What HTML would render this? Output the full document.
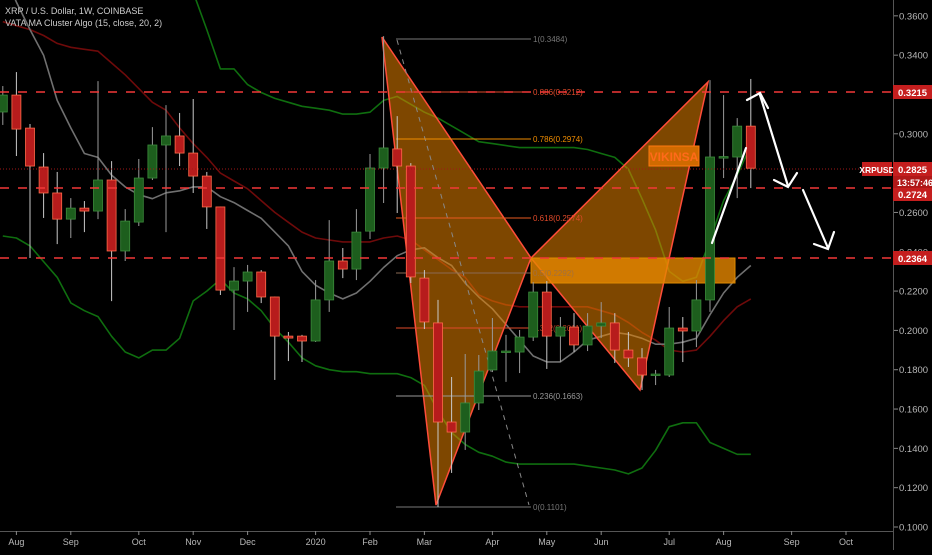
<!DOCTYPE html>
<html><head><meta charset="utf-8"><title>XRP / U.S. Dollar weekly chart</title>
<style>
html,body{margin:0;padding:0;background:#000;}
body{width:932px;height:550px;overflow:hidden;font-family:"Liberation Sans",sans-serif;}
svg text{font-family:"Liberation Sans",sans-serif;}
</style></head>
<body>
<svg id="chart" width="932" height="550" viewBox="0 0 932 550" xmlns="http://www.w3.org/2000/svg">
<rect x="0" y="0" width="932" height="550" fill="#000"/>
<defs><clipPath id="plot"><rect x="0" y="0" width="893" height="531"/></clipPath></defs>
<g id="under" clip-path="url(#plot)"></g>
<g id="lines" clip-path="url(#plot)"></g>
<g id="pattern" clip-path="url(#plot)">
  <polygon points="382,37 436,505 531,258" fill="rgba(230,130,0,0.55)" stroke="#ff4d3a" stroke-width="1.5"/>
  <polygon points="531,258 640,390 708,82" fill="rgba(230,130,0,0.55)" stroke="#ff4d3a" stroke-width="1.5"/>
  <line x1="397" y1="40" x2="529" y2="505" stroke="#888" stroke-width="1" stroke-dasharray="5,5"/>
  <rect x="531" y="258" width="204" height="25" fill="rgba(230,135,0,0.8)" stroke="#e08a00"/>
</g>
<g id="fib">
  <line x1="396" y1="39" x2="531" y2="39" stroke="#777"/>
  <text x="533" y="42" font-size="8" fill="#777">1(0.3484)</text>
  <line x1="396" y1="92" x2="531" y2="92" stroke="#e04a2a"/>
  <text x="533" y="95" font-size="8" fill="#e04a2a">0.886(0.3212)</text>
  <line x1="396" y1="139" x2="531" y2="139" stroke="#f08c00"/>
  <text x="533" y="142" font-size="8" fill="#f08c00">0.786(0.2974)</text>
  <line x1="396" y1="218" x2="531" y2="218" stroke="#e85a20"/>
  <text x="533" y="221" font-size="8" fill="#e04a2a">0.618(0.2574)</text>
  <line x1="396" y1="273" x2="531" y2="273" stroke="#8a6a55"/>
  <text x="533" y="276" font-size="8" fill="#a07040">0.5(0.2292)</text>
  <line x1="396" y1="328" x2="531" y2="328" stroke="#e04a2a"/>
  <text x="533" y="331" font-size="8" fill="#b03a20">0.382(0.2011)</text>
  <line x1="396" y1="396" x2="531" y2="396" stroke="#999"/>
  <text x="533" y="399" font-size="8" fill="#999">0.236(0.1663)</text>
  <line x1="396" y1="507" x2="531" y2="507" stroke="#777"/>
  <text x="533" y="510" font-size="8" fill="#777">0(0.1101)</text>
</g>
<g id="candles" clip-path="url(#plot)"></g>
<g id="levels">
  <line x1="0" y1="92" x2="893" y2="92" stroke="#f23838" stroke-width="1.5" stroke-dasharray="9,9"/>
  <line x1="0" y1="188" x2="893" y2="188" stroke="#f23838" stroke-width="1.5" stroke-dasharray="9,9"/>
  <line x1="0" y1="258" x2="893" y2="258" stroke="#f23838" stroke-width="1.5" stroke-dasharray="9,9"/>
  <line x1="0" y1="169" x2="893" y2="169" stroke="#a01818" stroke-width="1" stroke-dasharray="1,2"/>
</g>
<g>
  <rect x="649" y="146" width="50" height="20" fill="#d06a00" stroke="#ff7a10"/>
  <text x="674" y="161" font-size="12" font-weight="bold" fill="#ff6a1a" text-anchor="middle">VIKINSA</text>
</g>
<g id="arrows" fill="none" stroke="#fff" stroke-width="2.2" stroke-linecap="round">
  <line x1="712" y1="243" x2="746" y2="148"/>
  <polyline points="747,100 760,93 768,108"/>
  <line x1="760" y1="95" x2="788" y2="186"/>
  <polyline points="774,180 788,187 797,173"/>
  <line x1="803" y1="190" x2="828" y2="248"/>
  <polyline points="814,244 828,249 834,232"/>
</g>
<g id="axes">
  <line x1="893.5" y1="0" x2="893.5" y2="550" stroke="#555"/>
  <line x1="0" y1="531.5" x2="893" y2="531.5" stroke="#555"/>
</g>
<g id="yticks"></g>
<g id="xticks"></g>
<g>
  <rect x="893" y="85" width="39" height="14" fill="#c41e1e"/>
  <text x="898" y="96" font-size="9.5" font-weight="bold" fill="#fff">0.3215</text>
  <rect x="862" y="162" width="30" height="14" fill="#c41e1e"/>
  <text x="877" y="173" font-size="8.5" font-weight="bold" fill="#fff" text-anchor="middle">XRPUSD</text>
  <rect x="893" y="162" width="39" height="14" fill="#c41e1e"/>
  <text x="898" y="173" font-size="9.5" font-weight="bold" fill="#fff">0.2825</text>
  <rect x="893" y="176" width="39" height="12" fill="#b01818"/>
  <text x="897" y="186" font-size="9" font-weight="bold" fill="#fff">13:57:46</text>
  <rect x="893" y="188" width="39" height="13" fill="#c41e1e"/>
  <text x="898" y="198" font-size="9.5" font-weight="bold" fill="#fff">0.2724</text>
  <rect x="893" y="251" width="39" height="14" fill="#c41e1e"/>
  <text x="898" y="262" font-size="9.5" font-weight="bold" fill="#fff">0.2364</text>
</g>
<g>
  <text x="5" y="14" font-size="9" fill="#ccc">XRP / U.S. Dollar, 1W, COINBASE</text>
  <text x="5" y="26" font-size="9" fill="#ccc">VATA MA Cluster Algo (15, close, 20, 2)</text>
</g>
</svg>
<script>
const opens  = [0.3111,0.3197,0.3029,0.2831,0.2699,0.2566,0.2622,0.2607,0.2765,0.2404,0.2551,0.2775,0.2943,0.2989,0.2902,0.2785,0.2628,0.2205,0.2251,0.2297,0.2170,0.1971,0.1971,0.1946,0.2155,0.2353,0.2312,0.2505,0.2826,0.2923,0.2836,0.2266,0.2038,0.1534,0.1483,0.1631,0.1799,0.1890,0.1890,0.1966,0.2195,0.1971,0.2017,0.1926,0.2022,0.2038,0.1900,0.1860,0.1773,0.1773,0.2012,0.1997,0.2155,0.2882,0.2882,0.3039];
const highs  = [0.3243,0.3314,0.3050,0.2902,0.2806,0.2673,0.2658,0.3268,0.2861,0.2617,0.2872,0.3034,0.3146,0.3106,0.3177,0.2806,0.2630,0.2322,0.2333,0.2307,0.2172,0.1992,0.1977,0.2256,0.2561,0.2419,0.2617,0.2897,0.3497,0.3090,0.2851,0.2307,0.2155,0.1763,0.1880,0.1875,0.2063,0.1977,0.2002,0.2246,0.2251,0.2068,0.2088,0.2088,0.2144,0.2088,0.1992,0.1910,0.1799,0.2119,0.2068,0.2256,0.3273,0.3197,0.3080,0.3279];
const lows   = [0.3045,0.2887,0.2368,0.2572,0.2439,0.2470,0.2500,0.2566,0.2149,0.2353,0.2531,0.2765,0.2500,0.2836,0.2699,0.2516,0.2180,0.2002,0.2094,0.2139,0.1748,0.1844,0.1839,0.1941,0.2094,0.2266,0.2256,0.2465,0.2648,0.2597,0.2241,0.2007,0.1102,0.1275,0.1392,0.1595,0.1788,0.1738,0.1783,0.1946,0.1804,0.1839,0.1890,0.1895,0.1961,0.1834,0.1814,0.1697,0.1722,0.1763,0.1839,0.1915,0.2094,0.2775,0.2673,0.2724];
const closes = [0.3197,0.3024,0.2836,0.2699,0.2566,0.2622,0.2607,0.2765,0.2404,0.2556,0.2775,0.2943,0.2989,0.2902,0.2785,0.2628,0.2205,0.2251,0.2297,0.2170,0.1971,0.1961,0.1946,0.2155,0.2353,0.2312,0.2500,0.2826,0.2928,0.2836,0.2272,0.2043,0.1534,0.1483,0.1631,0.1793,0.1895,0.1895,0.1966,0.2195,0.1971,0.2017,0.1926,0.2022,0.2038,0.1900,0.1860,0.1773,0.1778,0.2012,0.1997,0.2155,0.2882,0.2884,0.3039,0.2825];
const maGray = [0.383,0.367,0.353,0.340,0.317,0.303,0.290,0.288,0.279,0.273,0.269,0.267,0.270,0.271,0.273,0.273,0.268,0.265,0.261,0.257,0.250,0.243,0.230,0.223,0.219,0.216,0.219,0.225,0.232,0.238,0.241,0.242,0.237,0.233,0.224,0.217,0.211,0.203,0.195,0.187,0.184,0.184,0.189,0.195,0.197,0.199,0.198,0.196,0.193,0.193,0.194,0.196,0.208,0.219,0.227,0.233];
const maRed  = [0.357,0.355,0.353,0.350,0.346,0.344,0.343,0.342,0.336,0.330,0.323,0.316,0.312,0.303,0.295,0.288,0.280,0.276,0.272,0.266,0.260,0.255,0.250,0.247,0.246,0.245,0.245,0.245,0.247,0.248,0.246,0.241,0.236,0.231,0.227,0.218,0.215,0.213,0.212,0.212,0.212,0.212,0.212,0.212,0.210,0.208,0.204,0.199,0.195,0.190,0.189,0.190,0.197,0.205,0.212,0.216];
const bandUpper = [0.450,0.450,0.445,0.440,0.440,0.435,0.430,0.425,0.420,0.410,0.400,0.395,0.390,0.380,0.372,0.353,0.333,0.333,0.325,0.321,0.318,0.316,0.314,0.313,0.312,0.310,0.310,0.311,0.317,0.319,0.315,0.311,0.308,0.304,0.300,0.296,0.295,0.294,0.293,0.293,0.293,0.293,0.293,0.292,0.290,0.288,0.282,0.267,0.251,0.230,0.225,0.227,0.246,0.266,0.279,0.294];
const bandLower = [0.248,0.247,0.243,0.235,0.227,0.214,0.210,0.207,0.197,0.189,0.186,0.190,0.190,0.196,0.215,0.220,0.226,0.219,0.216,0.210,0.201,0.194,0.186,0.182,0.180,0.179,0.179,0.178,0.178,0.178,0.176,0.172,0.159,0.148,0.142,0.138,0.136,0.133,0.132,0.132,0.132,0.132,0.132,0.131,0.130,0.129,0.127,0.130,0.139,0.151,0.153,0.153,0.143,0.140,0.137,0.137];
const priceTicks = [0.10,0.12,0.14,0.16,0.18,0.20,0.22,0.24,0.26,0.28,0.30,0.32,0.34,0.36];
const monthLabels = ["Aug","Sep","Oct","Nov","Dec","2020","Feb","Mar","Apr","May","Jun","Jul","Aug","Sep","Oct","Nov"];
const monthBars = [1,5,10,14,18,23,27,31,36,40,44,49,53,58,62,66];

const NS="http://www.w3.org/2000/svg";
function xOf(i){ return 2.8 + 13.6*i; }
function yOf(p){ return 527 - (p - 0.1)*1966; }
function mk(tag, attrs, parent){ const e=document.createElementNS(NS,tag); for(const k in attrs) e.setAttribute(k,attrs[k]); parent.appendChild(e); return e; }

const linesG=document.getElementById('lines');
function drawLine(vals, color, w, name){
  const pts=vals.map((v,i)=>xOf(i).toFixed(1)+','+yOf(v).toFixed(1)).join(' ');
  const pl=mk('polyline',{points:pts,fill:'none',stroke:color,'stroke-width':w,'stroke-linejoin':'round'},linesG);
  
  
}
drawLine(bandUpper,'#0f6e0f',1.6,'upper-band-line');
drawLine(bandLower,'#0f6e0f',1.6,'lower-band-line');
drawLine(maRed,'#6e0a0a',1.6,'slow-ma-line');
drawLine(maGray,'#707070',1.6,'fast-ma-line');

const cg=document.getElementById('candles');
for(let i=0;i<opens.length;i++){
  const o=opens[i],h=highs[i],l=lows[i],c=closes[i];
  const up=c>=o;
  const x=xOf(i);
  const g=mk('g',{},cg);
  
  
  const wk=mk('line',{x1:x,x2:x,y1:yOf(h),y2:yOf(l),stroke:up?'#9a9a9a':'#c8c8c8','stroke-width':1},g);
  
  
  const top=yOf(Math.max(o,c)), bot=yOf(Math.min(o,c));
  const b=mk('rect',{x:x-4.5,y:top,width:9,height:Math.max(1.5,bot-top),fill:up?'#1d5e1d':'#b71c1c',stroke:up?'#3c8c3c':'#ff6a4a','stroke-width':0.8},g);
  
  
}

const yg=document.getElementById('yticks');
priceTicks.forEach(p=>{
  const y=yOf(p);
  const t=mk('line',{x1:894,x2:898,y1:y,y2:y,stroke:'#888'},yg);
  
  
  const tx=mk('text',{x:899,y:y+3.5,'font-size':'9.5',fill:'#b8b8b8'},yg);
  tx.textContent=p.toFixed(4);
  
  
});

const xg=document.getElementById('xticks');
monthLabels.forEach((m,k)=>{
  const x=xOf(monthBars[k]);
  if(x>893) { return; }
  const t=mk('line',{x1:x,x2:x,y1:531,y2:535,stroke:'#888'},xg);
  
  
  const tx=mk('text',{x:x,y:545,'font-size':'9','text-anchor':'middle',fill:'#b8b8b8'},xg);
  tx.textContent=m;
  
  
});
</script>
</body></html>
